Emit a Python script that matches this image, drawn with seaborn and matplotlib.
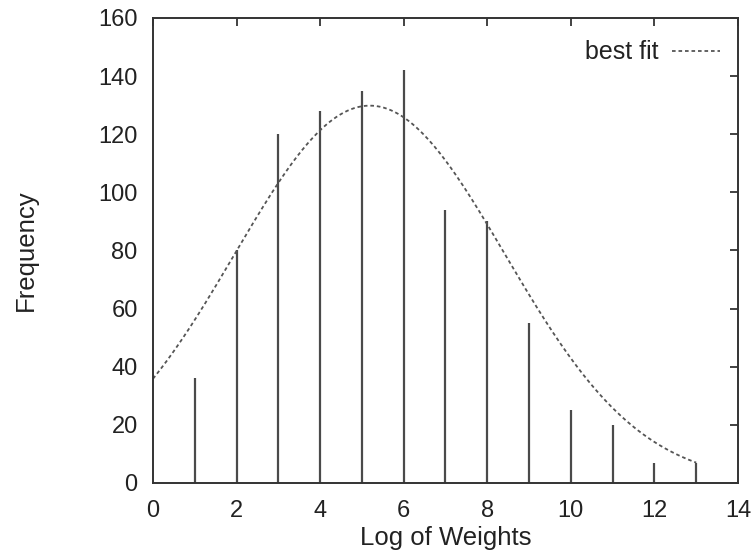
import numpy as np
import pandas as pd
import matplotlib
matplotlib.use("Agg")
import matplotlib.pyplot as plt
import seaborn as sns

# Impulse heights
weights = [1, 2, 3, 4, 5, 6, 7, 8, 9, 10, 11, 12, 13]
frequency = [36, 80, 120, 128, 135, 142, 94, 90, 55, 25, 20, 7, 7]

# Best fit curve, read at integer x positions
fit_x = [0, 1, 2, 3, 4, 5, 6, 7, 8, 9, 10, 11, 12, 13]
fit_y = [36, 56, 80, 103, 121, 129, 126, 111, 89, 65, 43, 26, 14, 7]

x_ticks = [0, 2, 4, 6, 8, 10, 12, 14]
y_ticks = [0, 20, 40, 60, 80, 100, 120, 140, 160]

sns.set_style("white")
plt.rcParams['font.family'] = ['Liberation Sans', 'DejaVu Sans']

# smooth the read curve points with a gaussian (log-quadratic) fit
coef = np.polyfit(fit_x, np.log(fit_y), 2)
xs = np.linspace(0, 13, 300)
curve = pd.DataFrame({"x": xs, "y": np.exp(np.polyval(coef, xs))})

fig = plt.figure(figsize=(7.55, 5.53), dpi=100)
ax = fig.add_axes([0.2026, 0.1266, 0.7749, 0.8409])

ax.vlines(weights, 0, frequency, color="#4a4a4a", lw=1.6)
sns.lineplot(data=curve, x="x", y="y", ax=ax, color="#555555", lw=1.3,
             linestyle=(0, (2, 1.6)), label="best fit")

ax.set_xlim(0, 14)
ax.set_ylim(0, 160)
ax.set_xticks(x_ticks)
ax.set_yticks(y_ticks)
ax.tick_params(direction="in", top=True, right=True, length=6, width=1.2,
               labelsize=17, colors="#222222")
ax.tick_params(axis="y", pad=11)
ax.tick_params(axis="x", pad=12)
for s in ax.spines.values():
    s.set_color("#333333")
    s.set_linewidth(1.4)

ax.set_xlabel("Log of Weights", fontsize=18.5, color="#222222", labelpad=3)
ax.set_ylabel("Frequency", fontsize=18.5, color="#222222")
ax.yaxis.set_label_coords(-0.197, 0.5)

leg = ax.legend(loc="upper right", bbox_to_anchor=(1.007, 1.0), frameon=False,
                markerfirst=False, fontsize=18, handlelength=1.9,
                borderaxespad=0.5, handletextpad=0.55)
for t in leg.get_texts():
    t.set_color("#222222")

fig.savefig("out.png", dpi=100)
